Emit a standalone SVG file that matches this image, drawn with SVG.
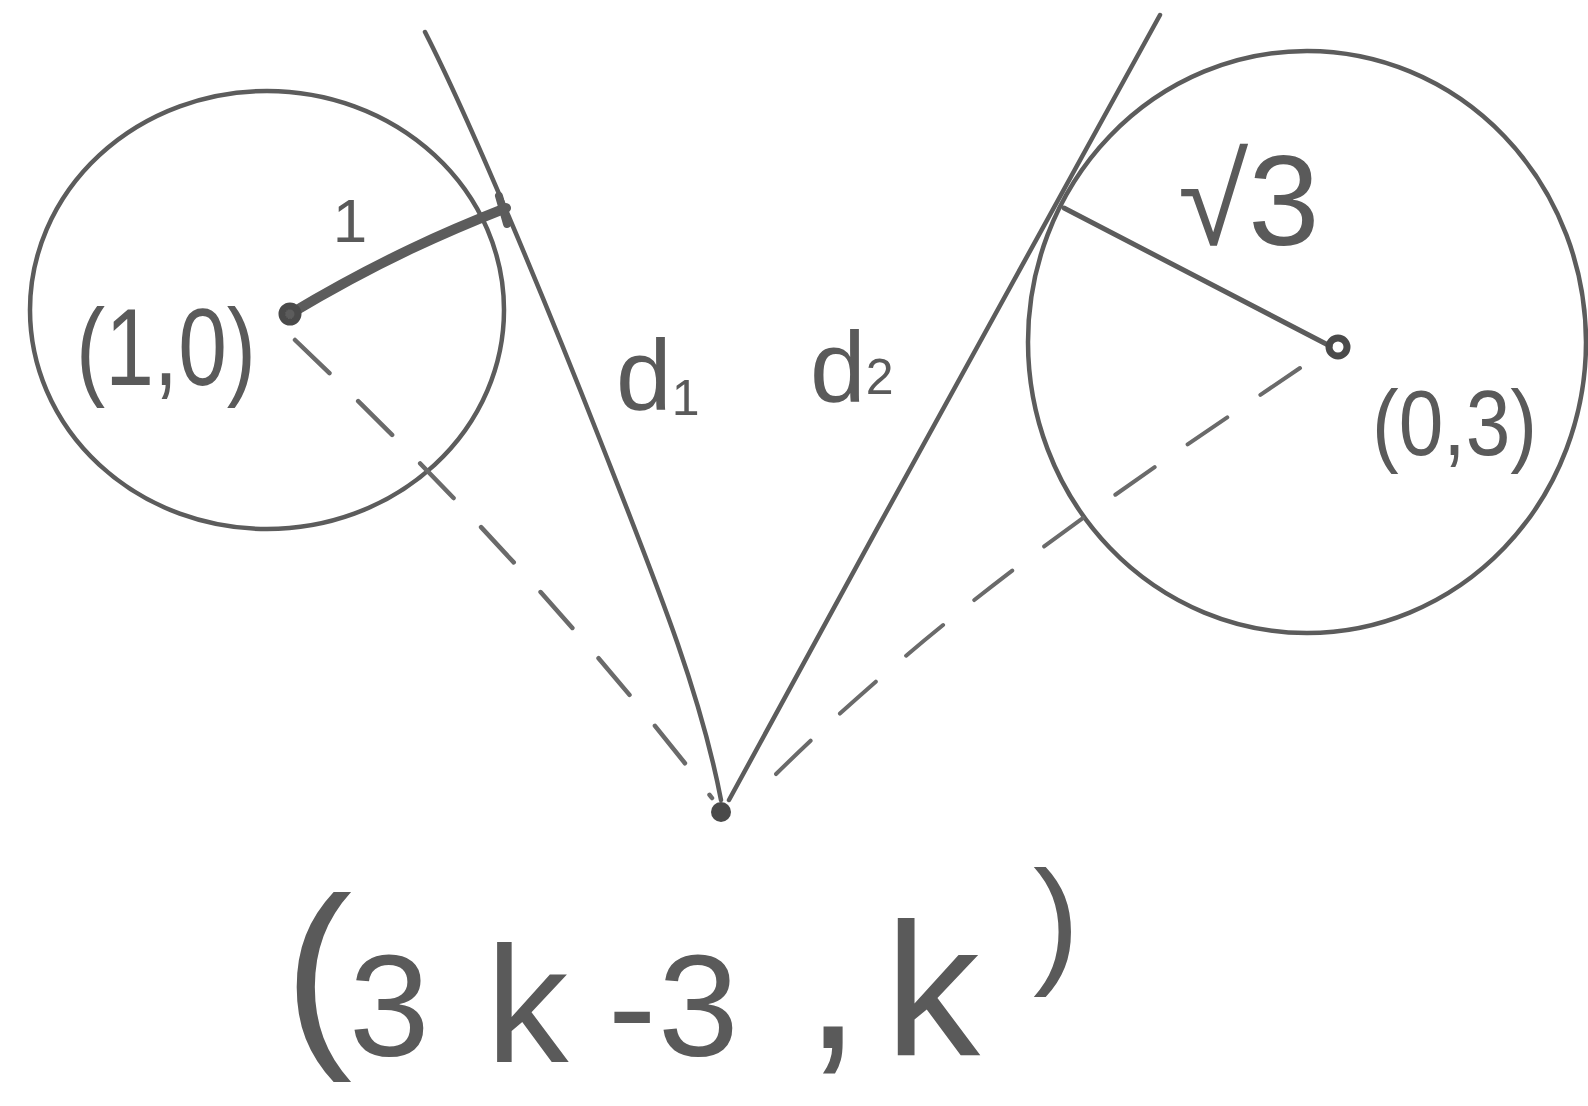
<svg xmlns="http://www.w3.org/2000/svg" width="1588" height="1106" viewBox="0 0 1588 1106">
<style>
.s{fill:none;stroke:#5c5c5c;stroke-width:4.5;stroke-linecap:round;stroke-linejoin:round}
.d{fill:none;stroke:#6a6a6a;stroke-width:4.5;stroke-linecap:round;stroke-dasharray:48 40}
.t{fill:#5a5a5a;font-family:"Liberation Sans",Arial,sans-serif}
</style>
<rect width="1588" height="1106" fill="#ffffff"/>
<g id="circle-left">
<ellipse class="s" cx="267" cy="310" rx="237" ry="219"/>
</g>
<g id="circle-right">
<ellipse class="s" cx="1307" cy="342" rx="279" ry="291"/>
</g>
<g id="point-bottom">
<circle cx="721" cy="812" r="10" fill="#4a4a4a"/>
</g>
<g id="connectors">
<path class="s" d="M425,32 C470,120 545,300 600,440 S700,690 721,800"/>
<path class="s" d="M1160,15 C1110,110 880,520 729,800"/>
<path class="s" d="M290,314 C380,260 450,230 506,208" style="stroke-width:10"/>
<path class="s" d="M499,196 L507,224" style="stroke-width:8"/>
<path class="s" d="M1064,208 L1330,346" style="stroke-width:5"/>
<circle cx="1338" cy="347" r="9" fill="none" stroke="#4a4a4a" stroke-width="7"/>
<circle cx="290" cy="314" r="8" fill="none" stroke="#4a4a4a" stroke-width="7"/>
<path class="d" d="M295,340 C400,440 560,600 712,798"/>
<path class="d" d="M1300,368 C1150,470 950,600 765,785" style="stroke-width:4"/>
</g>
<g id="labels">
<text class="t" x="350" y="242" font-size="62" text-anchor="middle">1</text>
<text class="t" x="76" y="385" font-size="110" textLength="180" lengthAdjust="spacingAndGlyphs">(1,0)</text>
<text class="t" x="616" y="410" font-size="100">d<tspan font-size="50" dy="5">1</tspan></text>
<text class="t" x="810" y="402" font-size="100">d<tspan font-size="50" dy="-8">2</tspan></text>
<text class="t" x="1178" y="245" font-size="128">√3</text>
<text class="t" x="1372" y="455" font-size="92" textLength="165" lengthAdjust="spacingAndGlyphs">(0,3)</text>
<text class="t"><tspan x="284" y="1040" font-size="205">(</tspan><tspan x="349" y="1056" font-size="145">3</tspan><tspan x="486" y="1062" font-size="165">k</tspan><tspan x="608 658" y="1056" font-size="145">-3</tspan><tspan x="805" y="1048" font-size="200">,</tspan><tspan x="885" y="1055" font-size="190">k</tspan><tspan x="1033" y="968" font-size="140">)</tspan></text>
</g>
</svg>
